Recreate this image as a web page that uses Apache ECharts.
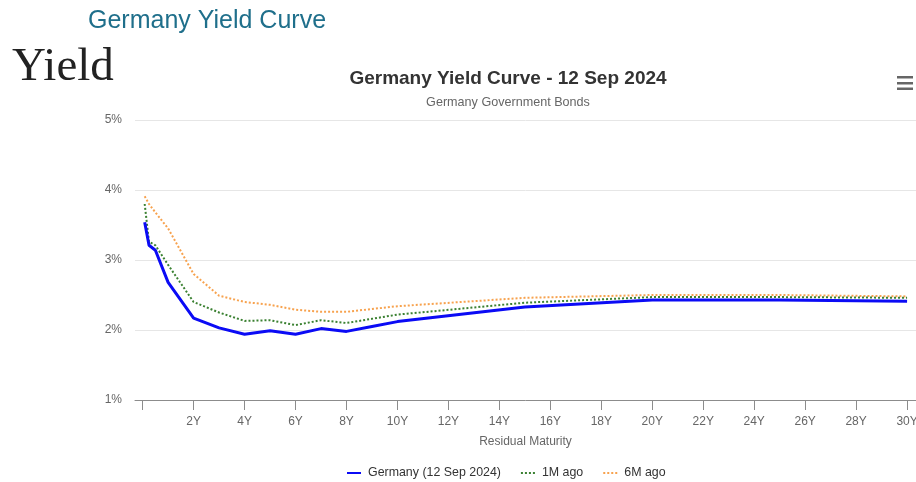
<!DOCTYPE html>
<html>
<head>
<meta charset="utf-8">
<script src="https://cdn.jsdelivr.net/npm/echarts@6/dist/echarts.min.js"></script>
<style>
html,body{margin:0;padding:0;background:#fff;}
#c{width:916px;height:482px;}
</style>
</head>
<body>
<div id="c"></div>
<script>
const maturities = [0.08, 0.25, 0.5, 1, 2, 3, 4, 5, 6, 7, 8, 9, 10, 15, 20, 25, 30];
const germanyNow = [3.54, 3.21, 3.14, 2.68, 2.17, 2.03, 1.94, 1.99, 1.94, 2.02, 1.98, 2.05, 2.12, 2.33, 2.43, 2.43, 2.41];
const oneMonthAgo = [3.80, 3.26, 3.21, 2.93, 2.40, 2.25, 2.13, 2.14, 2.07, 2.14, 2.10, 2.16, 2.22, 2.39, 2.47, 2.47, 2.46];
const sixMonthsAgo = [3.91, 3.80, 3.68, 3.45, 2.80, 2.49, 2.40, 2.36, 2.29, 2.26, 2.26, 2.30, 2.34, 2.46, 2.50, 2.50, 2.48];
const seriesNames = ['Germany (12 Sep 2024)', '1M ago', '6M ago'];
const xTickValues = [0, 2, 4, 6, 8, 10, 12, 14, 16, 18, 20, 22, 24, 26, 28, 30];
const xLabelValues = [2, 4, 6, 8, 10, 12, 14, 16, 18, 20, 22, 24, 26, 28, 30];
const yTicks = [1, 2, 3, 4, 5];

function pairs(vals) { return maturities.map((m, i) => [m, vals[i]]); }

const chart = echarts.init(document.getElementById('c'), null, {renderer: 'canvas'});
const font = '"Liberation Sans", Arial, sans-serif';
chart.setOption({
  animation: false,
  backgroundColor: '#ffffff',
  title: [
    {text: 'Germany Yield Curve', left: 83, top: 4,
     textStyle: {fontFamily: font, fontSize: 25, fontWeight: 'normal', color: '#1f6f8b'}},
    {text: 'Yield', left: 7, top: 39,
     textStyle: {fontFamily: '"Liberation Serif", "Times New Roman", serif', fontSize: 47, fontWeight: 'normal', color: '#222222'}},
    {text: 'Germany Yield Curve - 12 Sep 2024', left: 503, top: 64, textAlign: 'center',
     textStyle: {fontFamily: font, fontSize: 19, fontWeight: 'bold', color: '#333333'}},
    {text: 'Germany Government Bonds', left: 503, top: 91, textAlign: 'center',
     textStyle: {fontFamily: font, fontSize: 12.6, fontWeight: 'normal', color: '#666666'}}
  ],
  graphic: [
    {type: 'rect', shape: {x: 897, y: 76, width: 16, height: 2.5}, style: {fill: '#666'}},
    {type: 'rect', shape: {x: 897, y: 82, width: 16, height: 2.5}, style: {fill: '#666'}},
    {type: 'rect', shape: {x: 897, y: 87.5, width: 16, height: 2.5}, style: {fill: '#666'}}
  ],
  legend: {
    left: 341, top: 462, padding: 5, itemGap: 19, itemWidth: 14, itemHeight: 10,
    data: seriesNames,
    itemStyle: {opacity: 0},
    textStyle: {fontFamily: font, fontSize: 12.4, color: '#333333', padding: [0, 0, 0, 2]}
  },
  grid: {left: 135, right: 0, top: 120, bottom: 82, containLabel: false, outerBoundsMode: 'none'},
  xAxis: {
    type: 'value', min: -0.3, max: 30.35,
    name: 'Residual Maturity', nameLocation: 'middle', nameGap: 36,
    nameTextStyle: {fontFamily: font, fontSize: 12, color: '#666666'},
    axisLine: {show: true, lineStyle: {color: '#8c8c8c', width: 1}},
    axisTick: {show: true, length: 10, lineStyle: {color: '#8c8c8c'}, customValues: xTickValues},
    axisLabel: {fontFamily: font, fontSize: 12, color: '#666666', margin: 16,
      customValues: xLabelValues, formatter: v => v + 'Y'},
    splitLine: {show: false}
  },
  yAxis: {
    type: 'value', min: 1, max: 5, interval: 1,
    axisLine: {show: false}, axisTick: {show: false},
    axisLabel: {fontFamily: font, fontSize: 12, color: '#666666', margin: 13, formatter: v => v + '%'},
    splitLine: {show: true, lineStyle: {color: '#e6e6e6', width: 1}}
  },
  series: [
    {name: seriesNames[0], type: 'line', data: pairs(germanyNow), symbol: 'none', z: 5,
     lineStyle: {color: '#0b0bf5', width: 3}, itemStyle: {color: '#0b0bf5'}},
    {name: seriesNames[1], type: 'line', data: pairs(oneMonthAgo), symbol: 'none', z: 4,
     lineStyle: {color: '#3b8132', width: 2, type: [2, 2]}, itemStyle: {color: '#3b8132'}},
    {name: seriesNames[2], type: 'line', data: pairs(sixMonthsAgo), symbol: 'none', z: 3,
     lineStyle: {color: '#f7a24e', width: 2, type: [2, 2]}, itemStyle: {color: '#f7a24e'}}
  ]
});
</script>
</body>
</html>
